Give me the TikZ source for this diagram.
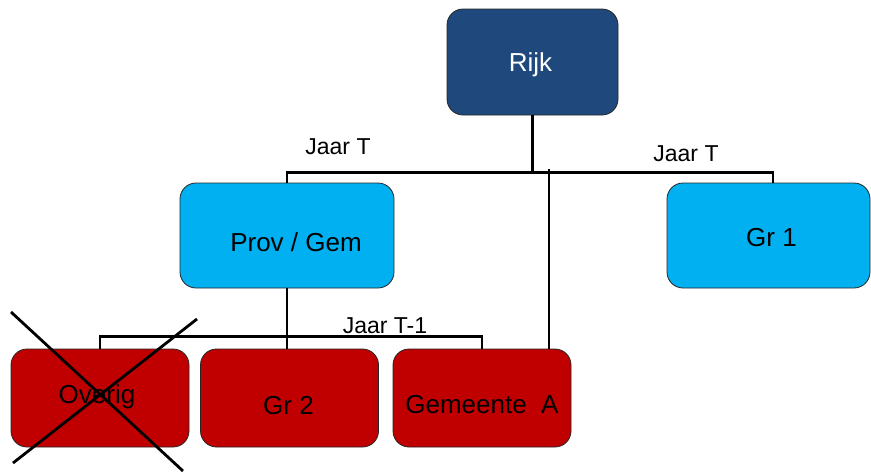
\documentclass[tikz,border=0pt]{standalone}
\usepackage{fontspec}
\setmainfont{Liberation Sans}
\usepackage{xcolor}
\usepackage{tikz}
\usetikzlibrary{positioning}

\definecolor{rijkblue}{RGB}{31,73,125}
\definecolor{provblue}{RGB}{0,176,240}
\definecolor{gemred}{RGB}{192,0,0}

\begin{document}
\begin{tikzpicture}[
    x=1pt, y=-1pt,
    box/.style={draw=black!85, line width=0.8pt, rectangle, rounded corners=16pt, fill=#1, minimum width=178pt, minimum height=98pt, inner sep=0pt},
    txt/.style={font=\fontsize{26}{31}\selectfont, text=black},
    jaar/.style={font=\fontsize{23}{28}\selectfont},
    lijn/.style={line width=2.8pt}
  ]
  \useasboundingbox (0,0) rectangle (871,472);

  % top
  \node[box=rijkblue, minimum width=171pt, minimum height=106pt, label={[txt, text=white, shift={(-2,3)}]center:Rijk}] (rijk) at (532.5,62) {};

  % middle row
  \node[box=provblue, minimum width=214pt, minimum height=105pt, label={[txt, shift={(9,6.5)}]center:Prov / Gem}] (prov) at (287,235.5) {};
  \node[box=provblue, minimum width=203pt, minimum height=105pt, label={[txt, shift={(3,2)}]center:Gr 1}] (gr1) at (768.5,235.5) {};

  % bottom row
  \node[box=gemred, label={[txt, shift={(-3,-1)}]center:Overig}] (overig) at (100,398) {};
  \node[box=gemred, label={[txt, shift={(-1,8)}]center:Gr 2}] (gr2) at (289.5,398) {};
  \node[box=gemred, label={[txt, shift={(0,7)}]center:Gemeente~~A}] (gema) at (482,398) {};

  % connectors
  \draw[lijn] (rijk.south) -- ++(0,57) coordinate (bus1) -| (prov.north);
  \draw[lijn] (bus1) -| ([xshift=4.5pt]gr1.north);
  \coordinate (tap) at (549,169);
  \draw[lijn] (tap) -- (tap |- gema.north);

  \draw[lijn] (prov.south) -- (prov.south |- gr2.north);
  \draw[lijn] (overig.north) -- ++(0,-12) coordinate (bus2) -- (bus2 -| gema.north) -- (gema.north);

  \node[jaar] (jt1) at (338,147) {Jaar T};
  \node[jaar] (jt2) at (686,154) {Jaar T};
  \node[jaar] (jt3) at (385,326) {Jaar T-1};

  % Overig is doorgestreept
  \draw[lijn] (11,312) -- (183,471);
  \draw[lijn] (197,319) -- (13,463);
\end{tikzpicture}
\end{document}
